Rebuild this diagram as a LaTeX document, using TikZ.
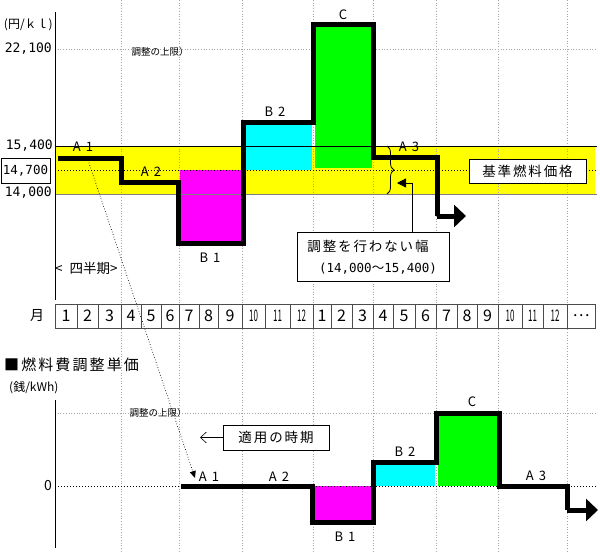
\documentclass[tikz,border=0pt]{standalone}
\usepackage{fontspec}
\setmainfont{Noto Sans CJK JP}
\newfontfamily\jpw[LetterSpace=14]{Noto Sans CJK JP}
\newfontfamily\numf{DejaVu Sans Mono}
\usetikzlibrary{arrows.meta,decorations.pathreplacing}
\newcommand\narrowdig[1]{\scalebox{0.5}[1]{#1}}
\definecolor{yel}{HTML}{FFFF00}
\definecolor{mag}{HTML}{FF00FF}
\definecolor{cya}{HTML}{00FFFF}
\definecolor{gre}{HTML}{00FF00}
\begin{document}
\begin{tikzpicture}[x=1pt,y=-1pt,
  gridl/.style={gray!70, dotted, line width=0.7pt},
  stepline/.style={line width=5pt, line join=miter},
  lbl/.style={font=\fontsize{13}{13}\selectfont, inner sep=0pt},
  numl/.style={font=\numf\fontsize{13}{13}\selectfont, inner sep=0pt},
  small/.style={font=\fontsize{9.5}{9.5}\selectfont, inner sep=0pt},
  jbox/.style={draw, fill=white, line width=0.8pt, inner sep=0pt},
  cell/.style={draw=black!70, fill=white, line width=0.6pt},
  bigarrow/.style={-{Triangle[length=12pt,width=22pt]}},
  ]
\useasboundingbox (0,0) rectangle (600,552);
% yellow band
\fill[yel] (55,146) rectangle (595,194);
% vertical grid
\foreach \x in {121,179,242,313,373,436,498,567}
  \draw[gridl] (\x,0) -- (\x,552);
% horizontal grid lines
\draw[gridl] (55,49) -- (597,49);
\draw[gridl] (55,413) -- (597,413);
% upper fills
\fill[mag] (180,170) rectangle (242,242);
\fill[cya] (245,123) rectangle (312,170);
\fill[gre] (315,26) rectangle (372,168);
% band lines
\draw[line width=0.8pt] (55,146) -- (597,146);
\draw[gray, line width=0.8pt] (55,194) -- (597,194);
\draw[dotted, line width=1pt] (55,170) -- (597,170);
% axes
\draw[line width=1pt] (55,12) -- (55,300);
\draw[line width=1pt] (55,400) -- (55,548);
% upper y labels
\node[font=\fontsize{12}{12}\selectfont, inner sep=0pt, anchor=east] (unit1) at (53,25) {(円/ｋｌ)};
\node[numl, anchor=east] (v221) at (52,49) {22,100};
\node[numl, anchor=east] (v154) at (53,146) {15,400};
\node[jbox, minimum width=49pt, minimum height=25pt, font=\numf\fontsize{12.5}{12.5}\selectfont] (v147) at (25.5,170.5) {14,700};
\node[numl, anchor=east] (v140) at (52,193) {14,000};
\node[small] (lim1) at (160,52) {調整の上限）};
% upper step line
\draw[stepline] (58,158) -- (121,158) -- (121,182) -- (178,182) -- (178,243) -- (243,243) -- (243,122) -- (313,122) -- (313,24) -- (373,24) -- (373,157) -- (437,157) -- (437,216);
\draw[stepline, bigarrow] (437,216) -- (466,216);
% upper labels
\node[lbl] (ua1) at (83,147) {A\hspace{5pt}1};
\node[lbl] (ua2) at (151,172) {A\hspace{5pt}2};
\node[lbl] (ub1) at (210,258) {B\hspace{5pt}1};
\node[lbl] (ub2) at (275,112) {B\hspace{5pt}2};
\node[lbl] (uc) at (343,15) {C};
\node[lbl] (ua3) at (409,147) {A\hspace{5pt}3};
% brace
\draw[decorate, decoration={brace, amplitude=7pt}, line width=0.8pt] (387,146) -- (387,194);
\coordinate (bt) at (397,183);
% box: no adjustment width
\node[jbox, minimum width=152pt, minimum height=49pt] (wbox) at (373,256.5) {};
\node[font=\jpw\fontsize{13.5}{13.5}\selectfont, inner sep=0pt] (wt1) at (368,246) {調整を行わない幅};
\node[font=\numf\fontsize{12.5}{12.5}\selectfont, inner sep=0pt] (wt2) at (378,269) {(14,000\fontspec{Noto Sans CJK JP}～\numf 15,400)};
\draw[line width=0.8pt, -{Triangle[length=9pt,width=9pt]}] ([xshift=39pt]wbox.north) |- (bt);
% box: base fuel price
\node[jbox, minimum width=117pt, minimum height=24pt, font=\jpw\fontsize{13.5}{13.5}\selectfont] (kbox) at (527.5,171) {基準燃料価格};
% quarter label
\node[font=\fontsize{13.5}{13.5}\selectfont, inner sep=0pt, anchor=west] (q) at (55,268) {<\hspace{7pt}四半期>};
% month row
\node[font=\fontsize{14}{14}\selectfont, inner sep=0pt] (mon) at (37,316) {月};
\foreach \a/\b/\t [count=\i] in {55/77/1,77/98/2,98/121/3,121/141/4,141/161/5,161/179/6,179/199/7,199/218/8,218/242/9,242/265/{\narrowdig{10}},265/290/{\narrowdig{11}},290/313/{\narrowdig{12}},313/331/1,331/352/2,352/373/3,373/393/4,393/415/5,415/436/6,436/457/7,457/477/8,477/498/9,498/522/{\narrowdig{10}},522/543/{\narrowdig{11}},543/567/{\narrowdig{12}},567/595/…}{
  \draw[cell] (\a,304) rectangle (\b,328);
  \node[font=\fontsize{16}{16}\selectfont, inner sep=0pt] (m\i) at ({(\a+\b)/2},316) {\t};
}
% lower title
\node[font=\jpw\fontsize{15}{15}\selectfont, inner sep=0pt, anchor=west] (title) at (4,365) {■燃料費調整単価};
\node[font=\fontsize{12}{12}\selectfont, inner sep=0pt, anchor=west] (unit2) at (9,388) {(銭/kWh)};
\node[small] (lim2) at (158,413) {調整の上限）};
% lower fills
\fill[mag] (314,486) rectangle (372,521);
\fill[cya] (376,464) rectangle (435,486);
\fill[gre] (438,415) rectangle (498,486);
\draw[dotted, line width=1pt] (55,486) -- (597,486);
\node[lbl, font=\fontsize{14}{14}\selectfont, anchor=east] (zero) at (52,486) {0};
% lower step line
\draw[stepline] (181,486) -- (312,486) -- (312,522) -- (373,522) -- (373,462) -- (436,462) -- (436,413) -- (499,413) -- (499,486) -- (567,486) -- (567,510);
\draw[stepline, bigarrow] (567,510) -- (598,510);
% lower labels
\node[lbl] (la1) at (209,477) {A\hspace{5pt}1};
\node[lbl] (la2) at (279,477) {A\hspace{5pt}2};
\node[lbl] (lb1) at (345,537) {B\hspace{5pt}1};
\node[lbl] (lb2) at (405,452) {B\hspace{5pt}2};
\node[lbl] (lc) at (472,402) {C};
\node[lbl] (la3) at (536,476) {A\hspace{5pt}3};
% application period box
\node[jbox, minimum width=106pt, minimum height=25pt, font=\jpw\fontsize{13.5}{13.5}\selectfont] (tbox) at (276,437.5) {適用の時期};
\coordinate (tl) at (200,437.5);
\draw[line width=0.6pt, -{Straight Barb[length=6pt,width=11pt]}] (tbox.west) -- (tl);
% diagonal dotted arrow
\coordinate (d1) at (88,160);
\coordinate (d2) at (195,478);
\draw[dotted, line width=0.7pt, -{Triangle[length=7pt,width=6pt]}] (d1) -- (d2);
\end{tikzpicture}
\end{document}
